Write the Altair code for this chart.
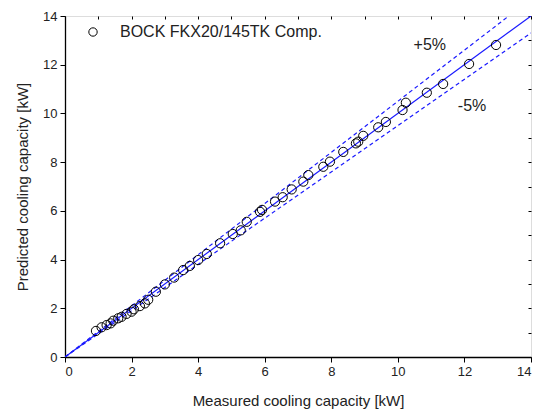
import altair as alt
import pandas as pd

measured = [0.93, 1.10, 1.25, 1.37, 1.45, 1.60, 1.70, 1.85, 2.00, 2.07, 2.25, 2.40, 2.50,
            2.73, 3.00, 3.28, 3.55, 3.75, 4.00, 4.26, 4.66, 5.04, 5.28, 5.46, 5.86, 5.92,
            6.31, 6.54, 6.81, 7.16, 7.31, 7.76, 7.96, 8.36, 8.74, 8.81, 8.96, 9.41, 9.64,
            10.14, 10.24, 10.87, 11.36, 12.14, 12.95]
predicted = [1.07, 1.22, 1.31, 1.38, 1.49, 1.59, 1.65, 1.77, 1.86, 1.96, 2.09, 2.20, 2.35,
             2.68, 2.98, 3.26, 3.57, 3.74, 3.98, 4.23, 4.67, 5.05, 5.20, 5.55, 5.96, 6.04,
             6.38, 6.56, 6.88, 7.20, 7.47, 7.81, 8.02, 8.42, 8.77, 8.84, 9.08, 9.43, 9.65,
             10.14, 10.44, 10.85, 11.21, 12.03, 12.81]
series_name = "BOCK FKX20/145TK Comp."

ref_x = [0, 14]
ref_y = [0, 14]
plus_x = [0, 14 / 1.05]
plus_y = [0, 14]
minus_x = [0, 14]
minus_y = [0, 14 * 0.95]

label_text = ["+5%", "-5%"]
label_x = [10.96, 12.23]
label_y = [12.8, 10.3]

all_ticks = list(range(0, 15))

FONT = "Liberation Sans"
BLUE = "#1a1aff"

pts = pd.DataFrame({"x": measured, "y": predicted, "s": [series_name] * len(measured)})
ref = pd.DataFrame({"x": ref_x, "y": ref_y})
plus = pd.DataFrame({"x": plus_x, "y": plus_y})
minus = pd.DataFrame({"x": minus_x, "y": minus_y})
labels = pd.DataFrame({"t": label_text, "x": label_x, "y": label_y})

xscale = alt.Scale(domain=[0, 14], nice=False)
yscale = alt.Scale(domain=[0, 14], nice=False)

tick_cond = {"condition": {"test": "datum.value % 2 === 1", "value": 3}, "value": 5}
even_labels = "datum.value % 2 === 0 ? datum.label : ''"

xaxis = alt.Axis(values=all_ticks, title="Measured cooling capacity [kW]", grid=False,
                 tickSize=tick_cond, labelExpr=even_labels,
                 labelFontSize=13, titleFontSize=15, titleFont=FONT, labelFont=FONT,
                 labelColor="#222", titleColor="#222", domainColor="black", tickColor="black",
                 labelPadding=3, titlePadding=15, titleFontWeight="normal", domainWidth=1.3)
yaxis = alt.Axis(values=all_ticks, title="Predicted cooling capacity [kW]", grid=False,
                 tickSize=tick_cond, labelExpr=even_labels,
                 labelFontSize=13, titleFontSize=15, titleFont=FONT, labelFont=FONT,
                 labelColor="#222", titleColor="#222", domainColor="black", tickColor="black",
                 labelPadding=3, titlePadding=12, titleFontWeight="normal", domainWidth=1.3)

x_top_axis = alt.Axis(values=all_ticks, labels=False, title=None, grid=False, tickSize=3,
                      domain=False, tickColor="black", orient="top", offset=-3)
y_right_axis = alt.Axis(values=all_ticks, labels=False, title=None, grid=False, tickSize=3,
                        domain=False, tickColor="black", orient="right", offset=-3)

points = alt.Chart(pts).mark_point(shape="circle", filled=False, size=85, strokeWidth=1,
                                   color="black", opacity=1).encode(
    x=alt.X("x:Q", scale=xscale, axis=xaxis),
    y=alt.Y("y:Q", scale=yscale, axis=yaxis),
    shape=alt.Shape("s:N", scale=alt.Scale(range=["circle"]),
                    legend=alt.Legend(title=None, orient="none", legendX=20, legendY=8,
                                      labelFontSize=16, labelFont=FONT, labelColor="#222",
                                      symbolSize=70, symbolStrokeColor="black",
                                      symbolFillColor="transparent", symbolStrokeWidth=1,
                                      labelOffset=19, labelLimit=0)),
)

frame_layer = alt.Chart(ref).mark_line(opacity=0).encode(
    x=alt.X("x:Q", scale=xscale, axis=x_top_axis),
    y=alt.Y("y:Q", scale=yscale, axis=y_right_axis),
)

line_ref = alt.Chart(ref).mark_line(color=BLUE, strokeWidth=1.2, clip=True).encode(
    x=alt.X("x:Q", scale=xscale), y=alt.Y("y:Q", scale=yscale))
line_plus = alt.Chart(plus).mark_line(color=BLUE, strokeWidth=1.2, strokeDash=[4, 3], clip=True).encode(
    x=alt.X("x:Q", scale=xscale), y=alt.Y("y:Q", scale=yscale))
line_minus = alt.Chart(minus).mark_line(color=BLUE, strokeWidth=1.2, strokeDash=[4, 3], clip=True).encode(
    x=alt.X("x:Q", scale=xscale), y=alt.Y("y:Q", scale=yscale))

text = alt.Chart(labels).mark_text(fontSize=16, font=FONT, color="#222").encode(
    x=alt.X("x:Q", scale=xscale), y=alt.Y("y:Q", scale=yscale), text="t:N")

main = alt.layer(line_ref, line_plus, line_minus, points, text)
chart = alt.layer(main, frame_layer).resolve_axis(x="independent", y="independent").properties(
    width=466, height=341,
    autosize=alt.AutoSizeParams(type="none"),
    padding={"left": 57, "top": 8, "right": 3, "bottom": 55},
).configure_view(stroke="black", strokeWidth=1.3).configure(background="white")

chart.save("out.html", embed_options={"renderer": "svg", "actions": False})
